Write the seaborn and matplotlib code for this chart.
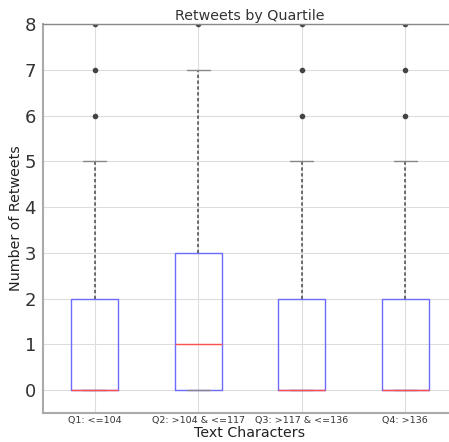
import matplotlib
matplotlib.use("Agg")
import matplotlib.pyplot as plt
import seaborn as sns

categories = ["Q1: <=104", "Q2: >104 & <=117", "Q3: >117 & <=136", "Q4: >136"]
q1_vals = [0, 0, 0, 0]
medians = [0, 1, 0, 0]
q3_vals = [2, 3, 2, 2]
whisker_low = [0, 0, 0, 0]
whisker_high = [5, 7, 5, 5]
fliers = [[6, 7, 8], [8], [6, 7, 8], [6, 7, 8]]
yticks = [0, 1, 2, 3, 4, 5, 6, 7, 8]

sns.set_style("whitegrid")
plt.rcParams["font.family"] = ["DejaVu Sans"]

fig = plt.figure(figsize=(4.49, 4.42), dpi=100)
ax = fig.add_axes([43 / 449, 29 / 442, 414 / 449, 389 / 442])

stats = []
for c, lo, q1, med, q3, hi, fl in zip(categories, whisker_low, q1_vals, medians,
                                       q3_vals, whisker_high, fliers):
    stats.append(dict(label=c, whislo=lo, q1=q1, med=med, q3=q3, whishi=hi, fliers=fl))

ax.bxp(stats, positions=range(1, len(categories) + 1), widths=0.45,
       boxprops=dict(color="#6b6bff", linewidth=1.0),
       medianprops=dict(color="#ff5050", linewidth=1.0),
       whiskerprops=dict(color="#555555", linestyle=(0, (2, 1.5)), linewidth=1.2),
       capprops=dict(color="#888888", linewidth=1.0),
       flierprops=dict(marker="o", markersize=3, markerfacecolor="#444444",
                       markeredgecolor="#444444"))

ax.set_xlim(0.5, 4.5)
ax.set_ylim(-0.5, 8)
ax.set_yticks(yticks)
ax.set_xticks(range(1, len(categories) + 1))
ax.set_xticklabels(categories, fontsize=6.8, color="#333333")
ax.tick_params(axis="y", labelsize=13, colors="#333333", length=0, pad=5)
ax.tick_params(axis="x", length=0, pad=2)
ax.grid(True, color="#dddddd", linewidth=0.8)
for s in ["left", "bottom"]:
    ax.spines[s].set_color("#aaaaaa")
    ax.spines[s].set_linewidth(1.5)
ax.spines["top"].set_color("#888888")
ax.spines["top"].set_linewidth(1.0)
ax.spines["right"].set_visible(False)

ax.set_title("Retweets by Quartile", fontsize=10.3, color="#333333", pad=3)
ax.set_xlabel("Text Characters", fontsize=10.2, color="#222222", labelpad=1)
ax.set_ylabel("Number of Retweets", fontsize=10.3, color="#222222", labelpad=1)

fig.savefig("out.png", dpi=100)
